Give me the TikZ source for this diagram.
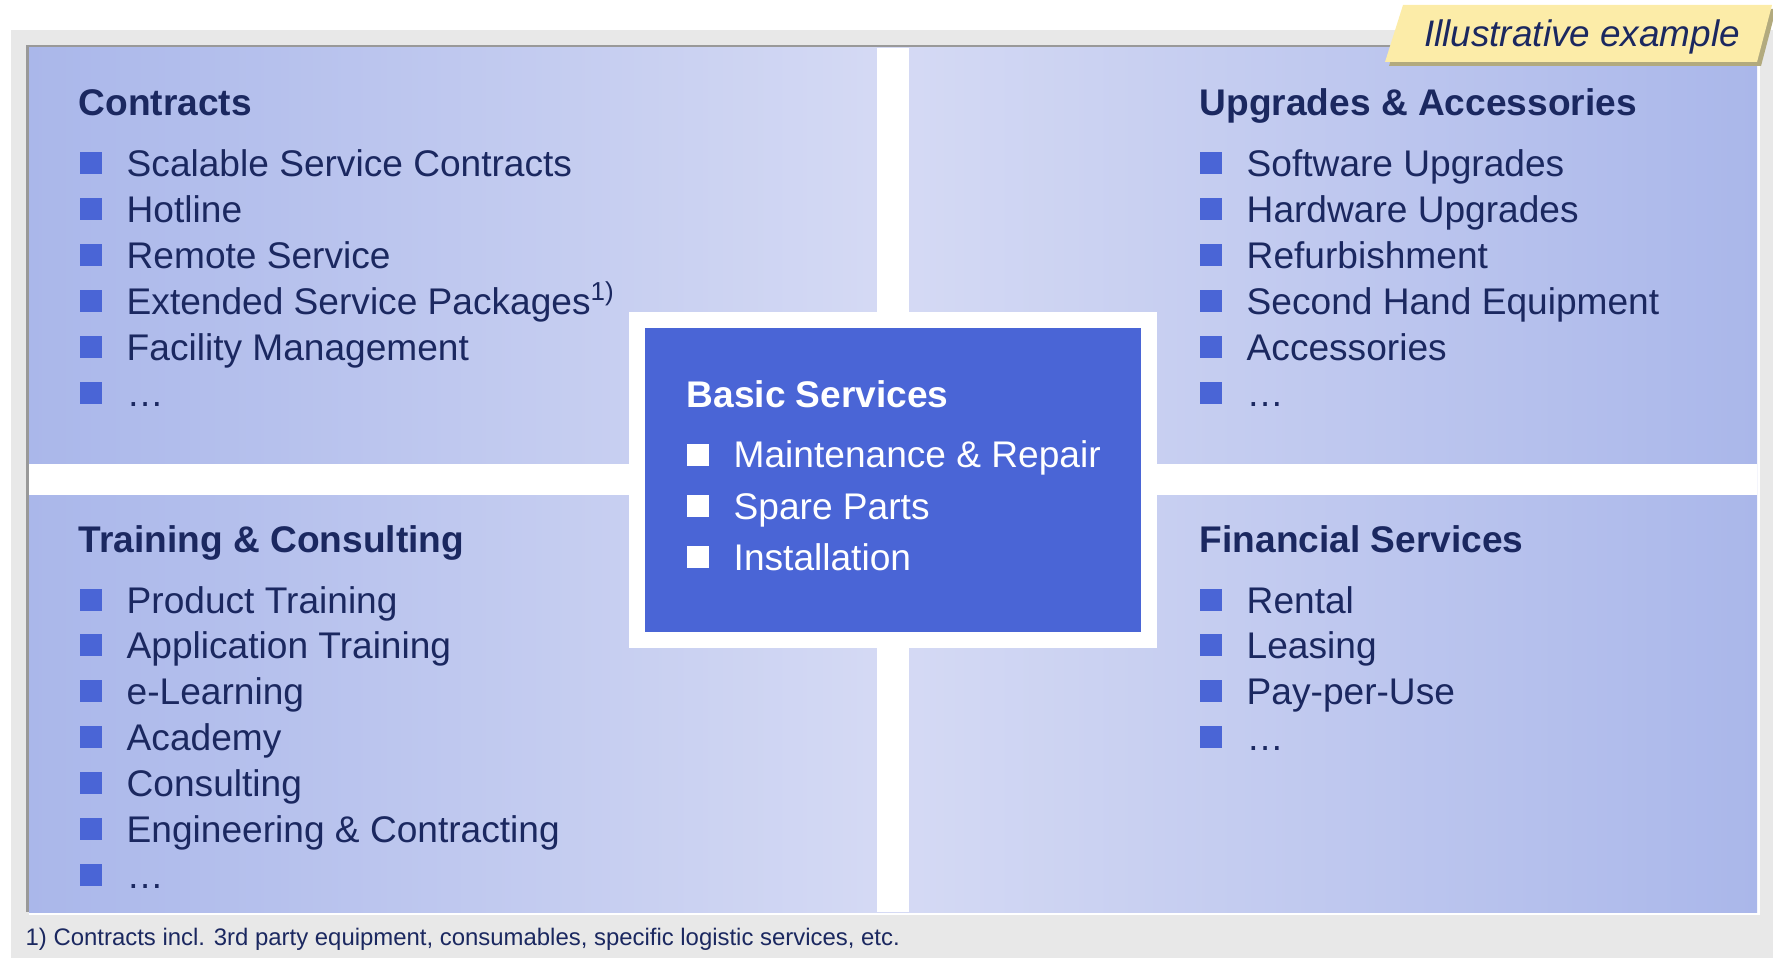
\documentclass[tikz,border=0pt]{standalone}
\usepackage{fontspec}
\setmainfont{Liberation Sans}
\definecolor{navy}{RGB}{27,40,96}
\definecolor{basicblue}{RGB}{74,101,214}
\definecolor{paneledge}{RGB}{170,183,234}
\definecolor{panelmid}{RGB}{213,218,244}
\definecolor{framegray}{RGB}{232,232,232}
\definecolor{framedark}{RGB}{153,153,153}
\definecolor{tagyellow}{RGB}{252,236,168}
\definecolor{tagshadow}{RGB}{178,170,126}
\tikzset{
	head/.style={anchor=base west, inner sep=0pt, font=\fontsize{10.55}{12}\selectfont\bfseries},
	item/.style={anchor=base west, inner sep=0pt, font=\fontsize{10.55}{12}\selectfont}
}

\begin{document}
\begin{tikzpicture}[x=0.01cm, y=-0.01cm, line join=miter]
	\def\itemlist#1#2#3#4#5#6#7{
		\foreach \txt [count=\i] in {#7} {
			\fill[#5] (#2,{#3+#4*(\i-1)-24.5}) rectangle ++(22,22);
			\node[item, text=#6] (#1\i) at (#2+46,{#3+#4*(\i-1)}) {\txt};
		}
	}
	\useasboundingbox (0,0) rectangle (1773,958);
	\fill[framegray] (11,30) rectangle (1773,958);
	\fill[framedark] (26,45) rectangle (1757,912);
	\fill[white] (29,48) rectangle (1760,915);
	\shade[left color=paneledge, right color=paneledge, middle color=panelmid] (29,48) rectangle (1757,912);
	\fill[white] (877,48) rectangle (909,912);
	\fill[white] (29,464) rectangle (1757,495);
	\fill[white] (629,312) rectangle (1157,648);
	\fill[basicblue] (645,328) rectangle (1141,632);
	
	\node[head, text=navy] (contracts) at (78,116) {Contracts};
	\itemlist{con}{80}{177}{45.9}{basicblue}{navy}{Scalable Service Contracts, Hotline, Remote Service, {Extended Service Packages\textsuperscript{1)}}, Facility Management, \dots}
	
	\node[head, text=navy] (upgrades) at (1199,116) {Upgrades \& Accessories};
	\itemlist{upg}{1200}{177}{45.9}{basicblue}{navy}{Software Upgrades, Hardware Upgrades, Refurbishment, Second Hand Equipment, Accessories, \dots}
	
	\node[head, text=navy] (training) at (78,552) {Training \& Consulting};
	\itemlist{trn}{80}{613}{45.9}{basicblue}{navy}{Product Training, Application Training, e-Learning, Academy, Consulting, Engineering \& Contracting, \dots}
	
	\node[head, text=navy] (financial) at (1199,552) {Financial Services};
	\itemlist{fin}{1200}{613}{45.9}{basicblue}{navy}{Rental, Leasing, Pay-per-Use, \dots}
	
	\node[head, text=white] (basic) at (686,407) {Basic Services};
	\itemlist{bas}{687}{468}{51}{white}{white}{Maintenance \& Repair, Spare Parts, Installation}
	
	\fill[tagshadow] (1406,9) -- (1776,9) -- (1761,66) -- (1389,66) -- cycle;
	\fill[tagyellow] (1403,5) -- (1772,5) -- (1757,62) -- (1385,62) -- cycle;
	\node[inner sep=0pt, anchor=base, text=navy, font=\fontsize{10.5}{12}\selectfont\itshape] (tag) at (1582,47) {Illustrative example};
	
	\node[inner sep=0pt, anchor=base west, text=navy, font=\fontsize{6.8}{8}\selectfont] (note) at (25,945) {1) Contracts incl. 3rd party equipment, consumables, specific logistic services, etc.};
\end{tikzpicture}
\end{document}
